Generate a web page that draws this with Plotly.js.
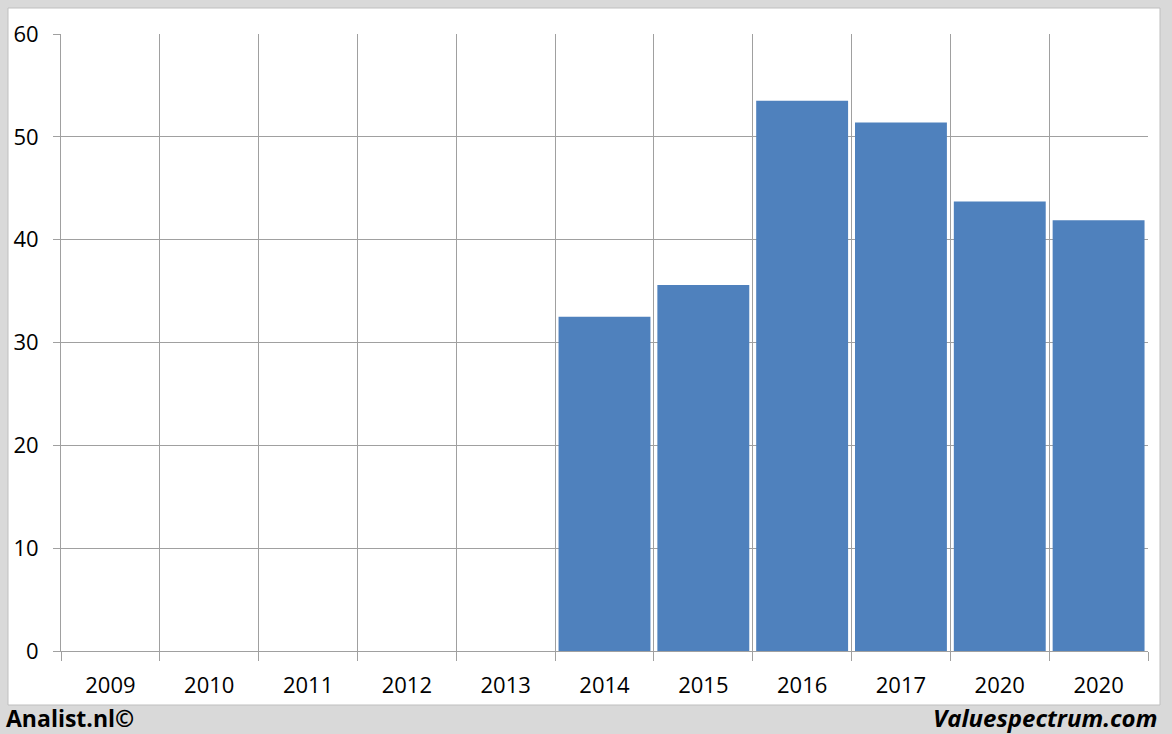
<!DOCTYPE html>
<html>
<head>
<meta charset="utf-8">
<script src="https://cdn.plot.ly/plotly-3.0.1.min.js"></script>
<style>html,body{margin:0;padding:0;background:#d9d9d9;}#chart{width:1172px;height:734px;}</style>
</head>
<body>
<div id="chart"></div>
<script>
var categories = ["2009","2010","2011","2012","2013","2014","2015","2016","2017","2020","2020"];
var values = [null,null,null,null,null,32.5,35.6,53.5,51.4,43.7,41.9];
var yTicks = [0,10,20,30,40,50,60];

var positions = categories.map(function(_, i){ return i; });
var boundaries = [];
for (var i = 0; i <= categories.length; i++) boundaries.push(i - 0.5);

var W = 1172, H = 734, L = 61, R = 24, T = 34, B = 83;
var pw = W - L - R, ph = H - T - B;
function px(x){ return (x - L) / pw; }
function py(y){ return (H - B - y) / ph; }

var trace = {
  type: 'bar',
  x: positions,
  y: values,
  marker: {color: '#4f81bd', line: {width: 0}},
  width: 0.93,
  hoverinfo: 'y'
};

var font = {family: 'Open Sans, Liberation Sans, sans-serif', size: 22, color: '#000'};

var layout = {
  width: W, height: H,
  margin: {l: L, r: R, t: T, b: B},
  paper_bgcolor: '#d9d9d9',
  plot_bgcolor: 'rgba(0,0,0,0)',
  showlegend: false,
  font: font,
  xaxis: {
    range: [-0.5, categories.length - 0.5],
    tickmode: 'array',
    tickvals: boundaries,
    ticktext: boundaries.map(function(){ return ''; }),
    showgrid: true, gridcolor: '#a0a0a0', gridwidth: 1,
    ticks: 'outside', ticklen: 9, tickcolor: '#a0a0a0',
    showline: true, linecolor: '#a0a0a0', linewidth: 1,
    zeroline: false, fixedrange: true
  },
  xaxis2: {
    overlaying: 'x',
    range: [-0.5, categories.length - 0.5],
    tickmode: 'array',
    tickvals: positions,
    ticktext: categories,
    side: 'bottom',
    showgrid: false, ticks: '', showline: false, zeroline: false,
    ticklabelstandoff: 19,
    tickfont: font, fixedrange: true
  },
  yaxis: {
    range: [0, 60],
    tickmode: 'array',
    tickvals: yTicks,
    ticktext: yTicks.map(String),
    showgrid: true, gridcolor: '#a0a0a0', gridwidth: 1,
    ticks: 'outside', ticklen: 7, tickcolor: '#a0a0a0',
    showline: true, linecolor: '#a0a0a0', linewidth: 1,
    zeroline: false, ticklabelstandoff: 10,
    tickfont: font, fixedrange: true
  },
  shapes: [{
    type: 'rect', xref: 'paper', yref: 'paper', layer: 'below',
    x0: px(8), x1: px(1160), y0: py(705), y1: py(8),
    fillcolor: '#ffffff', line: {color: '#bfbfbf', width: 1}
  }],
  annotations: [
    {xref: 'paper', yref: 'paper', x: px(4), y: py(718), xanchor: 'left', yanchor: 'middle',
     text: '<b>Analist.nl©</b>', showarrow: false,
     font: {family: 'Open Sans, Liberation Sans, sans-serif', size: 23, color: '#000'}},
    {xref: 'paper', yref: 'paper', x: px(1159), y: py(718), xanchor: 'right', yanchor: 'middle',
     text: '<b><i>Valuespectrum.com</i></b>', showarrow: false,
     font: {family: 'Open Sans, Liberation Sans, sans-serif', size: 24, color: '#000'}}
  ]
};

var dummy = {type: 'scatter', x: [positions[0]], y: [null], xaxis: 'x2', yaxis: 'y', hoverinfo: 'skip', showlegend: false};

Plotly.newPlot('chart', [trace, dummy], layout, {displayModeBar: false, staticPlot: true});
</script>
</body>
</html>
